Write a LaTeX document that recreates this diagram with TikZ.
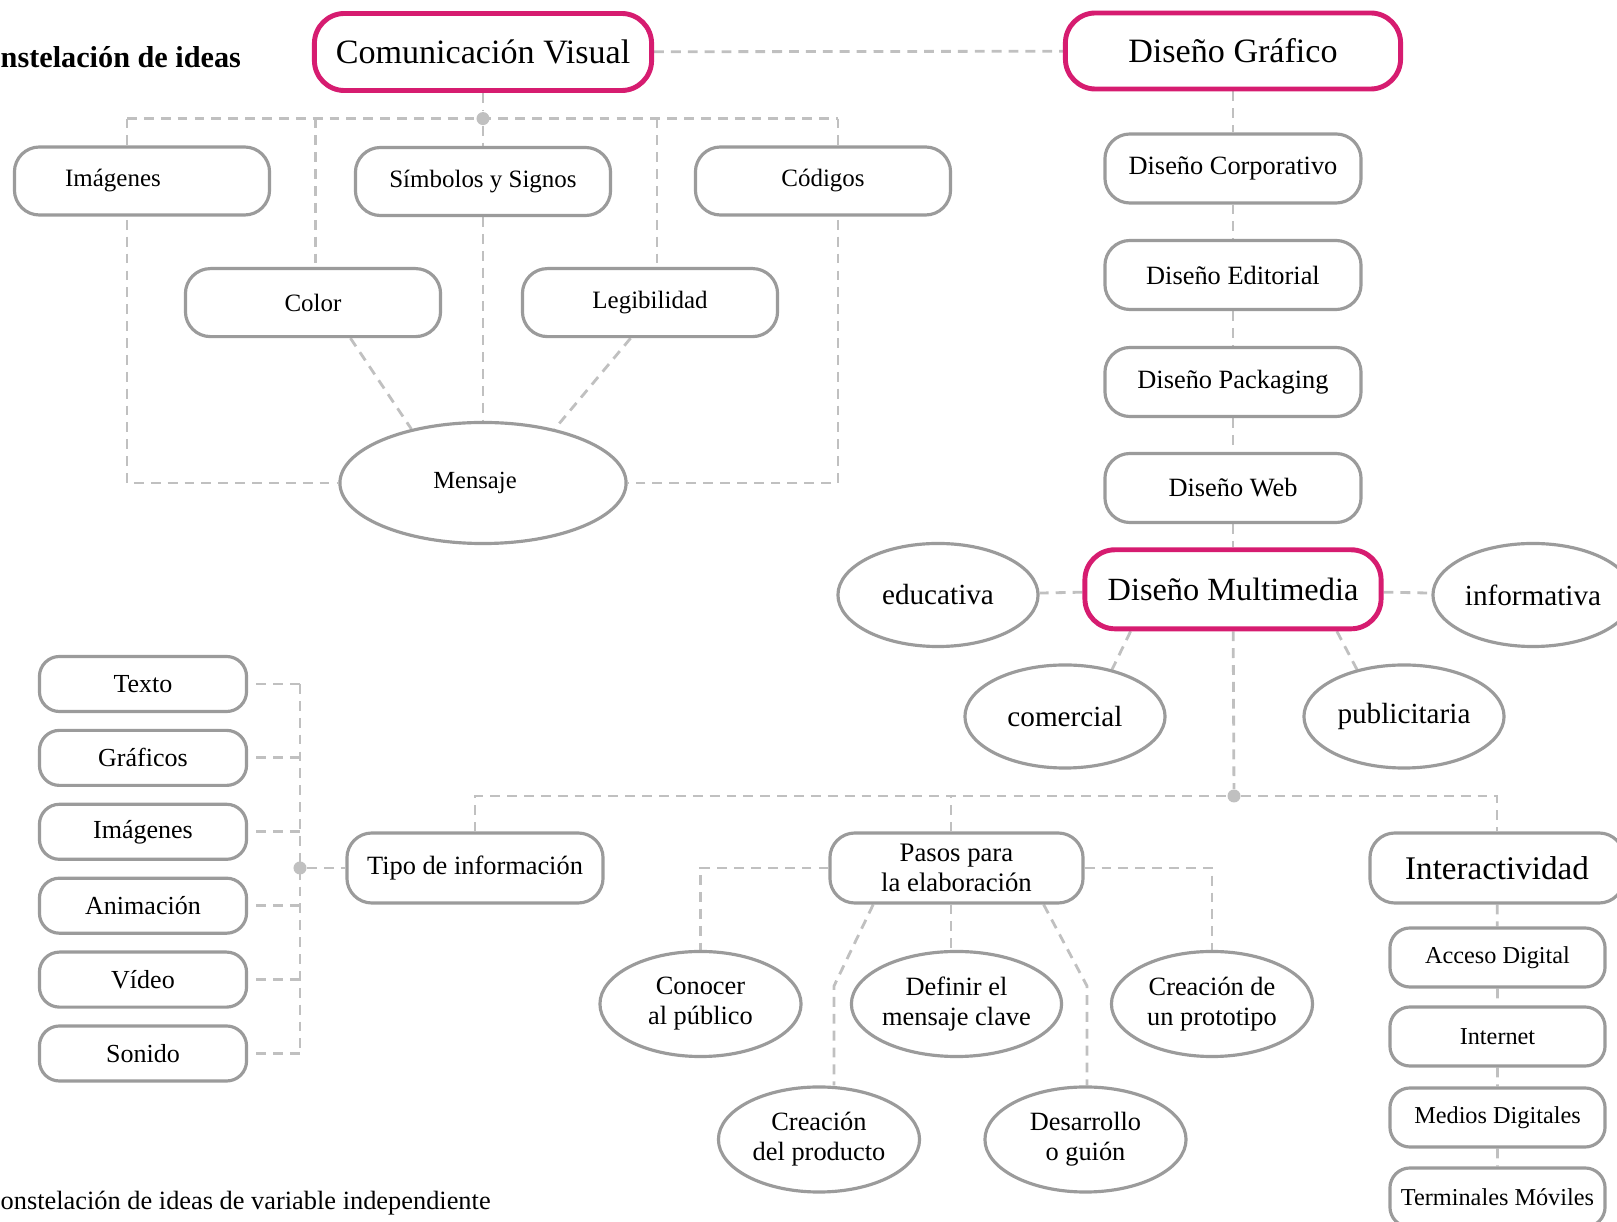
\documentclass[tikz,border=0pt]{standalone}
\usepackage{fontspec}
\setmainfont{Liberation Serif}
\usetikzlibrary{shapes.geometric,calc,backgrounds}

\definecolor{mapink}{RGB}{214,28,112}
\definecolor{boxgray}{RGB}{155,155,155}
\definecolor{linkgray}{RGB}{192,192,192}

\tikzset{
  pill/.style={draw=boxgray, line width=0.9pt, rounded corners=0.25cm, fill=white, align=center, inner sep=0pt},
  mainbox/.style={pill, draw=mapink, line width=1.4pt, rounded corners=0.3cm, font=\fontsize{9.7}{11}\selectfont},
  oval/.style={ellipse, draw=boxgray, line width=0.9pt, fill=white, align=center, inner sep=0pt},
  link/.style={draw=linkgray, line width=0.8pt, dash pattern=on 2.8pt off 2pt},
  hub/.style={circle, fill=linkgray, inner sep=0pt, minimum size=0.13cm},
}

\begin{document}
\begin{tikzpicture}[x=0.01cm, y=-0.01cm]

  % Parameters
  \def\busy{118.6}      % y of the upper bus
  \def\lowy{796}        % y of the lower bus
  \def\listgap{73.9}    % spacing of the left list

  \useasboundingbox (0,0) rectangle (1617,1222);

  % Titles (cut at the left edge)
  \node[anchor=west, inner sep=0pt, font=\bfseries\fontsize{8.6}{10}\selectfont] (titulo) at (0,57) {nstelación de ideas};
  \node[anchor=west, inner sep=0pt, font=\fontsize{7.5}{9}\selectfont] (pie) at (0,1203) {onstelación de ideas de variable independiente};

  % Comunicacion Visual group
  \node[mainbox, minimum width=3.37cm, minimum height=0.77cm] (comvis) at (483,52) {Comunicación Visual};
  \node[hub] (hubcv) at (483,\busy) {};
  \begin{scope}[every node/.style={pill, minimum width=2.55cm, minimum height=0.68cm, font=\fontsize{7.1}{8.5}\selectfont}]
    \node (imgs) at (142,181) {Imágenes\hspace*{0.58cm}};
    \node (simb) at (483,181.5) {\raisebox{-0.03cm}{Símbolos y Signos}};
    \node (codig) at (823,181) {\raisebox{0.06cm}{Códigos}};
    \node (color) at (313,302.6) {\raisebox{-0.07cm}{Color}};
    \node (legib) at (650,302.6) {Legibilidad};
  \end{scope}
  \node[oval, minimum width=2.86cm, minimum height=1.21cm, font=\fontsize{7}{8.5}\selectfont] (mensaje) at (483,483) {\raisebox{-0.06cm}{Mensaje}\hspace*{0.16cm}};

  % Diseno Grafico column
  \node[mainbox, minimum width=3.35cm, minimum height=0.76cm] (disgraf) at (1233,51) {Diseño Gráfico};
  \begin{scope}[every node/.style={pill, minimum width=2.56cm, minimum height=0.69cm, font=\fontsize{7.5}{9}\selectfont}]
    \node (dcorp) at (1233,168.5) {Diseño Corporativo};
    \node (dedit) at (1233,275) {Diseño Editorial};
    \node (dpack) at (1233,382) {Diseño Packaging};
    \node (dweb) at (1233,488) {Diseño Web};
  \end{scope}
  \node[mainbox, minimum width=2.96cm, minimum height=0.79cm, font=\fontsize{9.2}{11}\selectfont] (dmulti) at (1233,589.3) {Diseño Multimedia};

  % kinds of multimedia
  \begin{scope}[every node/.style={oval, minimum width=2cm, minimum height=1.03cm, font=\fontsize{8.3}{10}\selectfont}]
    \node (educ) at (938,595) {educativa};
    \node (info) at (1533,595) {informativa};
    \node (comer) at (1065,716.5) {comercial};
    \node (publi) at (1404,716.5) {publicitaria};
  \end{scope}

  % lower row
  \node[hub] (hubdm) at (1234,\lowy) {};
  \node[pill, minimum width=2.56cm, minimum height=0.70cm, font=\fontsize{7.5}{8.5}\selectfont] (tipo) at (475,868) {Tipo de información};
  \node[pill, minimum width=2.53cm, minimum height=0.70cm, font=\fontsize{7.6}{8.6}\selectfont] (pasos) at (956.5,868) {Pasos para\\la elaboración};
  \node[pill, minimum width=2.54cm, minimum height=0.70cm, font=\fontsize{9.4}{11}\selectfont] (inter) at (1497,868) {Interactividad};

  % Interactividad list
  \begin{scope}[every node/.style={pill, minimum width=2.15cm, minimum height=0.59cm, rounded corners=0.2cm, font=\fontsize{6.9}{8}\selectfont}]
    \node (acceso) at (1497.5,957.5) {Acceso Digital};
    \node (inet) at (1497.5,1036.5) {Internet};
    \node (medios) at (1497.5,1117.5) {Medios Digitales};
    \node (term) at (1497.5,1197.5) {Terminales Móviles};
  \end{scope}

  % steps
  \begin{scope}[every node/.style={oval, minimum width=2.01cm, minimum height=1.05cm, font=\fontsize{7.5}{8.5}\selectfont}]
    \node (conocer) at (700.5,1004) {Conocer\\al público};
    \node (definir) at (956.5,1004) {Definir el\\mensaje clave};
    \node (proto) at (1212,1004) {Creación de\\un prototipo};
    \node (produc) at (819,1139.5) {Creación\\del producto};
    \node (desarr) at (1085.5,1139.5) {Desarrollo\\o guión};
  \end{scope}

  % Tipo de informacion list
  \node[hub] (hubti) at (300,868) {};
  \foreach \lbl [count=\i] in {Texto, Gráficos, Imágenes, Animación, Vídeo, Sonido}
    \node[pill, minimum width=2.07cm, minimum height=0.55cm, rounded corners=0.2cm, font=\fontsize{7.4}{9}\selectfont]
      (item\i) at (143,{684+(\i-1)*\listgap}) {\lbl};

  % Connectors
  \begin{scope}[on background layer]
    \coordinate (busL) at (127,\busy);
    \coordinate (busR) at (838,\busy);
    \draw[link] (comvis) -- (disgraf);
    \draw[link] (comvis) -- (hubcv);
    \draw[link] (busL) -- (busR);
    \draw[link] (busL) |- (mensaje);
    \draw[link] (busR) |- (mensaje);
    \draw[link] (hubcv) -- (simb);
    \draw[link] (simb) -- (mensaje);
    \draw[link] ([xshift=0.025cm]color.north |- busL) -- ([xshift=0.025cm]color.north);
    \draw[link] ([xshift=0.07cm]legib.north |- busL) -- ([xshift=0.07cm]legib.north);
    \draw[link] ($(color.south)!0.29!(color.south east)$) -- (mensaje.143);
    \draw[link] ($(legib.south)!0.15!(legib.south west)$) -- (mensaje.37);

    \draw[link] (disgraf) -- (dcorp) -- (dedit) -- (dpack) -- (dweb) -- (dmulti);
    \draw[link] (dmulti) -- (educ);
    \draw[link] (dmulti) -- (info);
    \draw[link] ($(dmulti.south)!0.68!(dmulti.south west)$) -- (comer.45);
    \draw[link] ($(dmulti.south)!0.69!(dmulti.south east)$) -- (publi.135);
    \draw[link] (dmulti) -- (hubdm);

    \draw[link] (tipo) |- (hubdm) -| (inter);
    \draw[link] ([xshift=-0.055cm]pasos.north) -- ([xshift=-0.055cm]pasos.north |- hubdm);
    \draw[link] (inter) -- (acceso) -- (inet) -- (medios) -- (term);

    \draw[link] (pasos) -| (conocer);
    \draw[link] (pasos) -| (proto);
    \draw[link] ([xshift=-0.055cm]pasos.south) -- ([xshift=-0.055cm]pasos.south |- definir.north);
    \coordinate (kinkL) at (834,986);
    \coordinate (kinkR) at (1087,986);
    \draw[link] ($(pasos.south)!0.65!(pasos.south west)$) -- (kinkL) -- (kinkL |- produc.north);
    \draw[link] ($(pasos.south)!0.68!(pasos.south east)$) -- (kinkR) -- (kinkR |- desarr.north);

    \draw[link] (hubti |- item1) -- (hubti |- item6);
    \draw[link] (hubti) -- (tipo);
    \foreach \i in {1,...,6}
      \draw[link, shorten <=0.08cm] (item\i) -- (item\i -| hubti);
  \end{scope}

\end{tikzpicture}
\end{document}
